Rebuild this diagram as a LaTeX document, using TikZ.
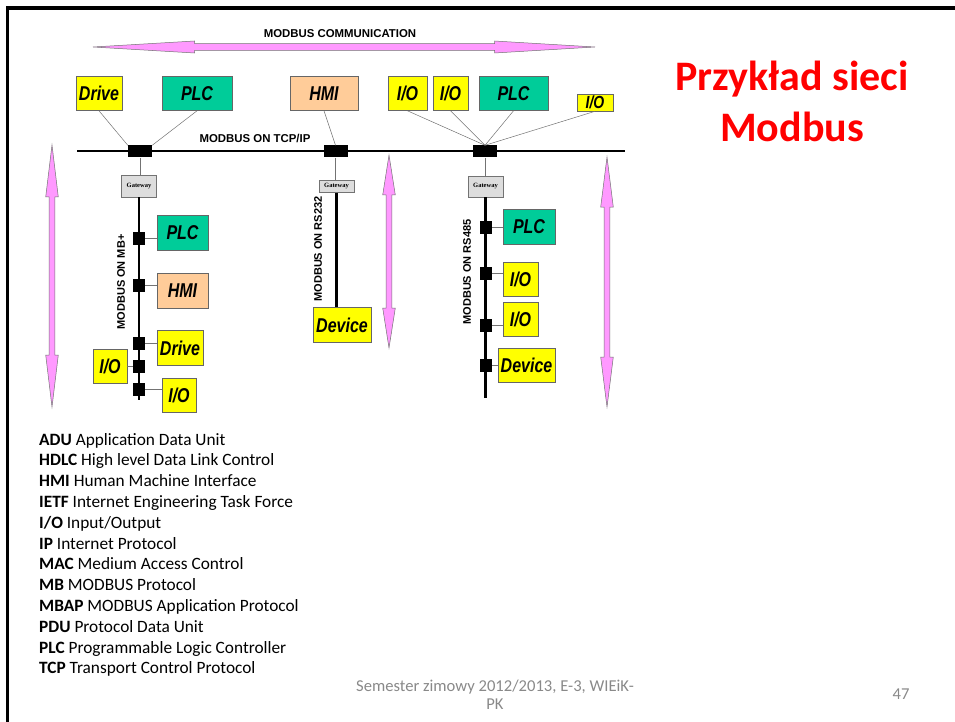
\documentclass[tikz,border=0pt]{standalone}
\usepackage{fontspec}
\setmainfont{Carlito}
\setsansfont{Liberation Sans}
\newfontfamily\gwfont{Liberation Serif}
\usepackage{xcolor}
\usepackage{graphicx}
\usetikzlibrary{calc}

\definecolor{ioyellow}{RGB}{255,255,0}
\definecolor{plcgreen}{RGB}{0,204,153}
\definecolor{hmipeach}{RGB}{255,204,153}
\definecolor{gwgray}{RGB}{221,221,221}
\definecolor{arrowpink}{RGB}{255,153,255}
\definecolor{titlered}{RGB}{255,0,0}
\definecolor{footgray}{RGB}{137,137,137}

\newcommand{\devtext}[1]{\scalebox{1}[1.25]{#1}}

\tikzset{
  dev/.style={draw=black!60,line width=0.6pt,inner sep=0pt,
    font=\sffamily\bfseries\itshape\fontsize{16}{16}\selectfont},
  iobox/.style={dev,fill=ioyellow},
  plcbox/.style={dev,fill=plcgreen},
  hmibox/.style={dev,fill=hmipeach},
  gwbox/.style={draw=black!55,fill=gwgray,inner sep=0pt,
    font=\gwfont\bfseries\fontsize{6.5}{6.5}\selectfont},
  tap/.style={fill=black,inner sep=0pt},
  stub/.style={draw=black!55,line width=0.5pt},
  busline/.style={line width=2.6pt},
  buslabel/.style={font=\sffamily\bfseries\fontsize{11.4}{11.4}\selectfont},
  sidelabel/.style={font=\sffamily\bfseries\fontsize{11}{11}\selectfont,rotate=90},
  pinkarrow/.style={fill=arrowpink,draw=black!55,line width=0.5pt},
  legend/.style={font=\fontsize{17.3}{20}\selectfont,inner sep=0pt},
  foot/.style={font=\fontsize{16.6}{18}\selectfont,text=footgray,inner sep=0pt}
}

\begin{document}
\begin{tikzpicture}[x=1pt,y=-1pt]
\useasboundingbox (0,0) rectangle (955,722);
% slide frame
\draw[line width=3.3pt] (7.5,722) -- (7.5,8) -- (955,8);

% pink arrows
\draw[pinkarrow] (93,47) -- (194.5,41) -- (194.5,43.7) -- (494.5,43.7) -- (494.5,41)
  -- (595,47) -- (494.5,53) -- (494.5,50.3) -- (194.5,50.3) -- (194.5,53) -- cycle;
\foreach \ax/\at/\ab/\ah in {52/145/407/52, 389/155/348/40, 607/157/407/50}{
  \draw[pinkarrow] (\ax,\at) -- ({\ax+6.3},{\at+\ah}) -- ({\ax+2.8},{\at+\ah})
    -- ({\ax+2.8},{\ab-\ah}) -- ({\ax+6.3},{\ab-\ah}) -- (\ax,\ab)
    -- ({\ax-6.3},{\ab-\ah}) -- ({\ax-2.8},{\ab-\ah}) -- ({\ax-2.8},{\at+\ah})
    -- ({\ax-6.3},{\at+\ah}) -- cycle;
}
\node[buslabel] (commlabel) at (340,34) {MODBUS COMMUNICATION};

% TCP/IP bus
\coordinate (busL) at (77,151);
\coordinate (busR) at (625,151);
\draw[busline] (busL) -- (busR);
\node[buslabel] (tcplabel) at (255,138) {MODBUS ON TCP/IP};
\node[tap,minimum width=24pt,minimum height=12pt] (tap1) at (140,151.5) {};
\node[tap,minimum width=24pt,minimum height=12pt] (tap2) at (335.5,151.5) {};
\node[tap,minimum width=24pt,minimum height=12pt] (tap3) at (485,151.5) {};

% devices on TCP/IP
\node[iobox,minimum width=46pt,minimum height=34pt] (drive1) at (99,93.5) {\devtext{Drive}};
\node[plcbox,minimum width=70pt,minimum height=34pt] (plc1) at (197,93.5) {\devtext{PLC}};
\node[hmibox,minimum width=68pt,minimum height=34pt] (hmi1) at (324,93.5) {\devtext{HMI}};
\node[iobox,minimum width=39pt,minimum height=34pt] (io1) at (407.5,93.5) {\devtext{I/O}};
\node[iobox,minimum width=35pt,minimum height=34pt] (io2) at (450.5,93.5) {\devtext{I/O}};
\node[plcbox,minimum width=69pt,minimum height=34pt] (plc2) at (513.5,93.5) {\devtext{PLC}};
\node[iobox,minimum width=36pt,minimum height=17pt,font=\sffamily\bfseries\itshape\fontsize{14}{14}\selectfont] (io3) at (595,102.5) {\devtext{I/O}};

\draw[stub] (drive1.south) -- (tap1.north west);
\draw[stub] (plc1.south) -- (tap1.north east);
\draw[stub] (hmi1.south) -- (tap2.north);
\foreach \n in {io1,io2,plc2,io3}
  \draw[stub] (\n.south) -- (tap3.north);

% MB+ branch
\node[gwbox,minimum width=35pt,minimum height=22pt] (gw1) at (139,186) {Gateway};
\draw[stub] (tap1.south) -- (tap1.south |- gw1.north);
\coordinate (mbEnd) at (139,400);
\draw[busline] (gw1.south) -- (mbEnd);
\node[sidelabel] (mblabel) at (121,282) {MODBUS ON MB+};
\foreach \y [count=\i] in {238,285,343,366,389}
  \node[tap,minimum width=12pt,minimum height=13pt] (mb\i) at (139,\y) {};
\node[plcbox,minimum width=51pt,minimum height=35pt] (plc3) at (182.5,232.5) {\devtext{PLC}};
\node[hmibox,minimum width=51pt,minimum height=35pt] (hmi2) at (182.5,290.5) {\devtext{HMI}};
\node[iobox,minimum width=46pt,minimum height=35pt] (drive2) at (180,348) {\devtext{Drive}};
\node[iobox,minimum width=34pt,minimum height=34pt] (io4) at (110,366) {\devtext{I/O}};
\node[iobox,minimum width=34pt,minimum height=34pt] (io5) at (179,395.5) {\devtext{I/O}};
\draw[stub] (mb1.east) -- (mb1.east -| plc3.west);
\draw[stub] (mb2.east) -- (mb2.east -| hmi2.west);
\draw[stub] (mb3.east) -- (mb3.east -| drive2.west);
\draw[stub] (mb4.west) -- (mb4.west -| io4.east);
\draw[stub] (mb5.east) -- (mb5.east -| io5.west);

% RS232 branch
\node[gwbox,minimum width=35pt,minimum height=12pt] (gw2) at (336.5,186.5) {Gateway};
\draw[stub] (tap2.south) -- (tap2.south |- gw2.north);
\node[iobox,minimum width=58pt,minimum height=35pt] (dev1) at (342,325) {\devtext{Device}};
\draw[busline] (gw2.south) -- (gw2.south |- dev1.north);
\node[sidelabel] (rs232label) at (318,249) {MODBUS ON RS232};

% RS485 branch
\node[gwbox,minimum width=35pt,minimum height=21pt] (gw3) at (485.5,186.5) {Gateway};
\draw[stub] (tap3.south) -- (tap3.south |- gw3.north);
\coordinate (rsEnd) at (486,398);
\draw[busline] (gw3.south) -- (gw3.south |- rsEnd);
\node[sidelabel] (rs485label) at (467,272) {MODBUS ON RS485};
\foreach \y [count=\i] in {227,273,325,365}
  \node[tap,minimum width=12pt,minimum height=13pt] (rs\i) at (486,\y) {};
\node[plcbox,minimum width=52pt,minimum height=35pt] (plc4) at (529,226.5) {\devtext{PLC}};
\node[iobox,minimum width=35pt,minimum height=34pt] (io6) at (520.5,279) {\devtext{I/O}};
\node[iobox,minimum width=35pt,minimum height=34pt] (io7) at (520.5,319) {\devtext{I/O}};
\node[iobox,minimum width=57pt,minimum height=34pt] (dev2) at (526.5,365) {\devtext{Device}};
\draw[stub] (rs1.east) -- (rs1.east -| plc4.west);
\draw[stub] (rs2.east) -- (rs2.east -| io6.west);
\draw[stub] (rs3.east) -- (rs3.east -| io7.west);
\draw[stub] (rs4.east) -- (rs4.east -| dev2.west);

% title
\node[font=\bfseries\fontsize{42}{51}\selectfont,text=titlered,anchor=base] (title1) at (792,91) {Przykład sieci};
\node[font=\bfseries\fontsize{42}{51}\selectfont,text=titlered,anchor=base] (title2) at (792,142) {Modbus};

% abbreviations
\foreach \ab/\txt [count=\i from 0] in {ADU/Application Data Unit,
  HDLC/High level Data Link Control, HMI/Human Machine Interface,
  IETF/Internet Engineering Task Force, {I/O}/{Input/Output},
  IP/Internet Protocol, MAC/Medium Access Control, MB/MODBUS Protocol,
  MBAP/MODBUS Application Protocol, PDU/Protocol Data Unit,
  PLC/Programmable Logic Controller, TCP/Transport Control Protocol}
  \node[legend,anchor=base west] (leg\i) at (39,{445+20.8*\i}) {\textbf{\ab} \txt};

% footer
\node[foot,anchor=base] (foot1) at (495,691) {Semester zimowy 2012/2013, E-3, WIEiK-};
\node[foot,anchor=base] (foot2) at (495,709) {PK};
\node[foot,anchor=base] (pagenum) at (901,699) {47};
\end{tikzpicture}
\end{document}
